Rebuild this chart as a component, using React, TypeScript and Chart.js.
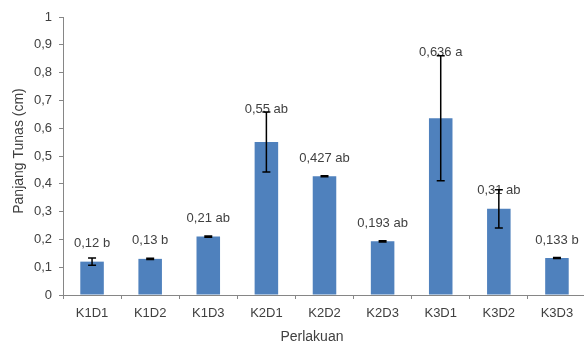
import React, { useEffect, useRef } from 'react';
import { Chart, registerables } from 'chart.js';

Chart.register(...registerables);

const categories = ['K1D1', 'K1D2', 'K1D3', 'K2D1', 'K2D2', 'K2D3', 'K3D1', 'K3D2', 'K3D3'];
const values = [0.12, 0.13, 0.21, 0.55, 0.427, 0.193, 0.636, 0.31, 0.133];
const errors = [0.013, 0.002, 0.002, 0.108, 0.002, 0.002, 0.225, 0.069, 0.002];
const valueLabels = ['0,12 b', '0,13 b', '0,21 ab', '0,55 ab', '0,427 ab', '0,193 ab', '0,636 a', '0,31 ab', '0,133 b'];
const yTickLabels = ['0', '0,1', '0,2', '0,3', '0,4', '0,5', '0,6', '0,7', '0,8', '0,9', '1'];
const xTitle = 'Perlakuan';
const yTitle = 'Panjang Tunas (cm)';

const FONT = "'Liberation Sans', Arial, sans-serif";
const TEXT = '#404040';
const AXIS = '#868686';
const BAR = '#4F81BD';

const overlayPlugin = {
  id: 'overlay',
  afterDatasetsDraw(chart: any) {
    const ctx = chart.ctx;
    const meta = chart.getDatasetMeta(0);
    const y = chart.scales.y;
    const area = chart.chartArea;
    ctx.save();
    // value labels
    ctx.font = `13px ${FONT}`;
    ctx.fillStyle = TEXT;
    ctx.textAlign = 'center';
    ctx.textBaseline = 'middle';
    meta.data.forEach((bar: any, i: number) => {
      const hi = y.getPixelForValue(values[i] + errors[i]);
      const ly = errors[i] > 0.1 ? hi - 3 : bar.y - 18;
      ctx.fillText(valueLabels[i], bar.x, ly);
    });
    // error bars
    ctx.strokeStyle = '#000000';
    ctx.lineWidth = 1.5;
    meta.data.forEach((bar: any, i: number) => {
      const hi = y.getPixelForValue(values[i] + errors[i]);
      const lo = y.getPixelForValue(values[i] - errors[i]);
      ctx.beginPath();
      ctx.moveTo(bar.x, hi);
      ctx.lineTo(bar.x, lo);
      ctx.moveTo(bar.x - 4, hi);
      ctx.lineTo(bar.x + 4, hi);
      ctx.moveTo(bar.x - 4, lo);
      ctx.lineTo(bar.x + 4, lo);
      ctx.stroke();
    });
    // axis titles
    ctx.fillStyle = TEXT;
    ctx.font = `14px ${FONT}`;
    ctx.textAlign = 'center';
    ctx.textBaseline = 'middle';
    ctx.fillText(xTitle, area.left + (area.right - area.left) * 0.476, chart.height - 7);
    ctx.translate(area.left - 44, (area.top + area.bottom) / 2 - 5);
    ctx.rotate(-Math.PI / 2);
    ctx.fillText(yTitle, 0, 0);
    ctx.restore();
  },
};

export default function App() {
  const ref = useRef<HTMLCanvasElement | null>(null);
  useEffect(() => {
    if (!ref.current) return;
    const chart = new Chart(ref.current, {
      type: 'bar',
      data: {
        labels: categories,
        datasets: [
          {
            data: values,
            backgroundColor: BAR,
            borderWidth: 0,
            barPercentage: 0.405,
            categoryPercentage: 1,
          },
        ],
      },
      options: {
        animation: false,
        responsive: false,
        maintainAspectRatio: false,
        layout: { padding: { top: 17, left: 0, right: 4, bottom: 0 } },
        plugins: { legend: { display: false }, tooltip: { enabled: false } },
        scales: {
          x: {
            grid: { drawOnChartArea: false, drawTicks: true, tickLength: 4, color: AXIS, offset: true },
            border: { color: AXIS, width: 1 },
            ticks: { color: TEXT, font: { family: FONT, size: 13 }, padding: 7, maxRotation: 0, autoSkip: false },
            afterFit: (s: any) => {
              s.height = 49;
            },
          },
          y: {
            min: 0,
            max: 1,
            grid: { drawOnChartArea: false, drawTicks: true, tickLength: 4, color: AXIS },
            border: { color: AXIS, width: 1 },
            ticks: {
              stepSize: 0.1,
              color: TEXT,
              font: { family: FONT, size: 13 },
              padding: 7,
              callback: (_v: any, i: number) => yTickLabels[i],
            },
            afterFit: (s: any) => {
              s.width = 63;
            },
          },
        },
      },
      plugins: [overlayPlugin],
    });
    return () => chart.destroy();
  }, []);
  return (
    <div style={{ position: 'absolute', left: 0, top: 0, width: 584, height: 344, overflow: 'hidden', background: '#fff' }}>
      <canvas ref={ref} width={590} height={344} style={{ display: 'block', width: 590, height: 344 }} />
    </div>
  );
}
